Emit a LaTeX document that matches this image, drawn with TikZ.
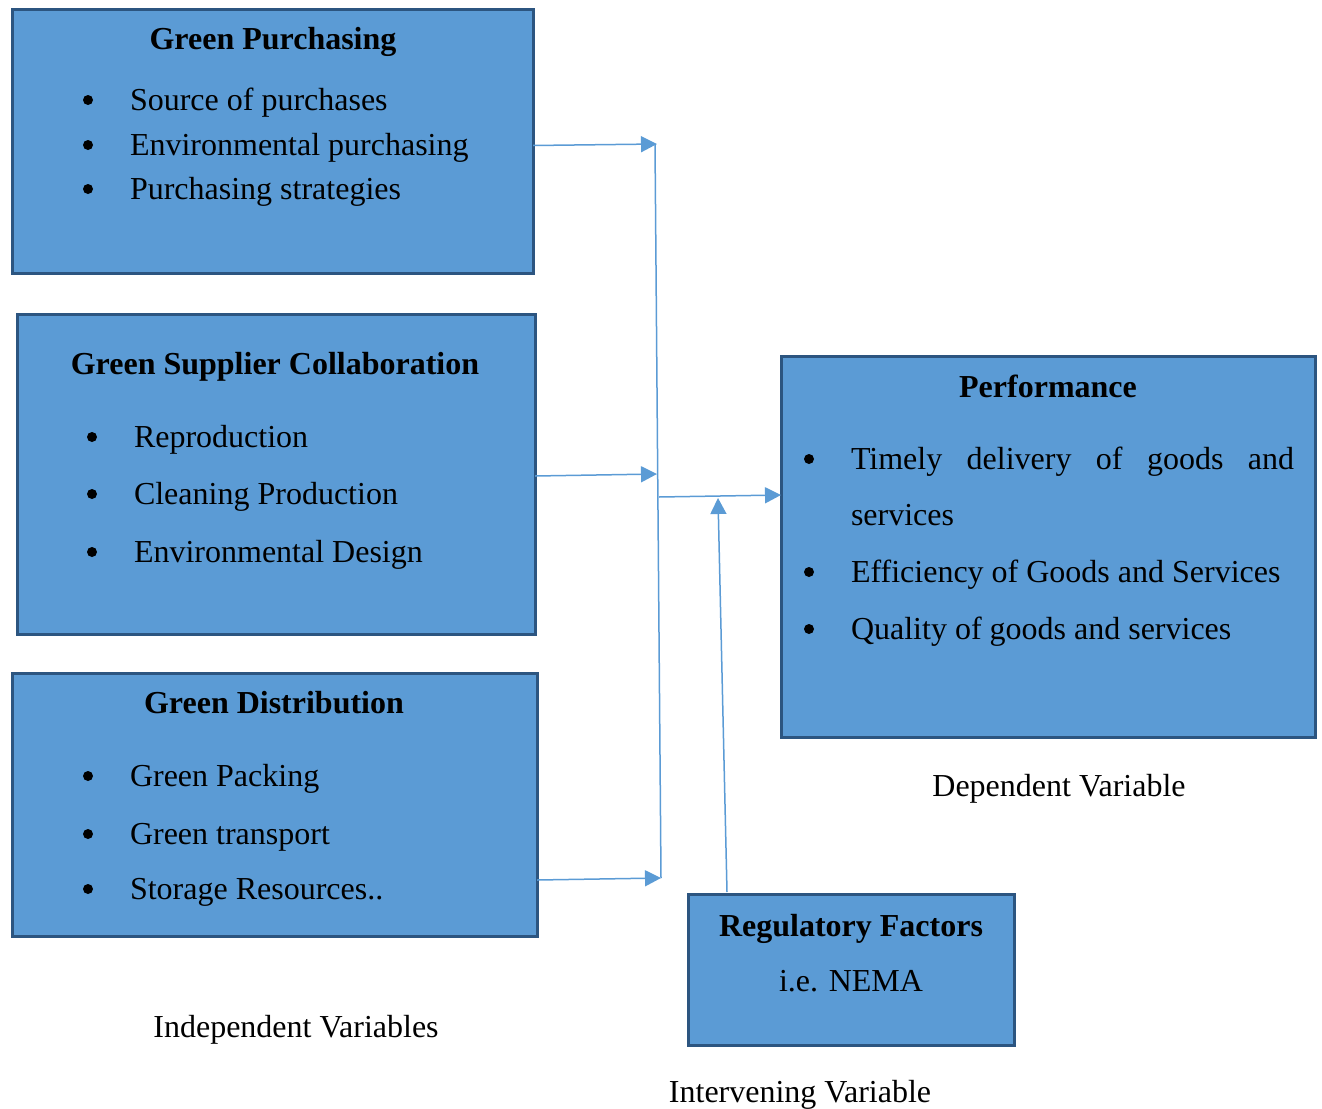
\documentclass[tikz,border=0pt]{standalone}
\usepackage{fontspec}
\setmainfont{Liberation Serif}
\usetikzlibrary{arrows.meta}
\definecolor{boxfill}{HTML}{5B9BD5}
\definecolor{boxline}{HTML}{2C5580}
\definecolor{connc}{HTML}{5B9BD5}
\begin{document}
\begin{tikzpicture}[x=1pt,y=-1pt,
  every node/.style={font=\fontsize{32}{38}\selectfont, inner sep=0pt, outer sep=0pt},
  panel/.style={draw=boxline, line width=3pt, fill=boxfill, anchor=north west},
  ttl/.style={font=\fontsize{32}{38}\selectfont\bfseries, anchor=base},
  item/.style={anchor=base west},
  dot/.style={circle, fill=black, minimum size=10pt, yshift=10pt},
  conn/.style={draw=connc, line width=1.5pt},
  arr/.style={conn, -{Triangle[length=16pt,width=16pt]}}]
\useasboundingbox (0,0) rectangle (1322,1108);

% boxes
\node[panel, minimum width=521pt, minimum height=263pt] (gp) at (12,10) {};
\node[panel, minimum width=518pt, minimum height=320pt] (gsc) at (17,314) {};
\node[panel, minimum width=525pt, minimum height=263pt] (gd) at (12,673) {};
\node[panel, minimum width=534pt, minimum height=381pt] (perf) at (781,356) {};
\node[panel, minimum width=326pt, minimum height=151pt] (reg) at (688,894) {};

% Green Purchasing
\node[ttl] (gpt) at (273,50) {Green Purchasing};
\node[dot] (gpd1) at (88,110) {};
\node[dot] (gpd2) at (88,155) {};
\node[dot] (gpd3) at (88,199) {};
\node[item] (gpi1) at (130,110) {Source of purchases};
\node[item] (gpi2) at (130,155) {Environmental purchasing};
\node[item] (gpi3) at (130,199) {Purchasing strategies};

% Green Supplier Collaboration
\node[ttl] (gsct) at (275,374) {Green Supplier Collaboration};
\node[dot] (gscd1) at (92,447) {};
\node[dot] (gscd2) at (92,504) {};
\node[dot] (gscd3) at (92,562) {};
\node[item] (gsci1) at (134,447) {Reproduction};
\node[item] (gsci2) at (134,504) {Cleaning Production};
\node[item] (gsci3) at (134,562) {Environmental Design};

% Green Distribution
\node[ttl] (gdt) at (274,713) {Green Distribution};
\node[dot] (gdd1) at (88,786) {};
\node[dot] (gdd2) at (88,844) {};
\node[dot] (gdd3) at (88,899) {};
\node[item] (gdi1) at (130,786) {Green Packing};
\node[item] (gdi2) at (130,844) {Green transport};
\node[item] (gdi3) at (130,899) {Storage Resources..};

% Performance
\node[ttl] (pt) at (1048,397) {Performance};
\node[dot] (pd1) at (809,469) {};
\node[dot] (pd2) at (809,582) {};
\node[dot] (pd3) at (809,639) {};
\node[item] (pi1) at (851,469) {\makebox[443pt][s]{Timely delivery of goods and}};
\node[item] (pi1b) at (851,525) {services};
\node[item] (pi2) at (851,582) {Efficiency of Goods and Services};
\node[item] (pi3) at (851,639) {Quality of goods and services};

% Regulatory
\node[ttl] (rt) at (851,936) {Regulatory Factors};
\node[anchor=base] (rs) at (851,991) {i.e. NEMA};

% captions
\node[anchor=base] (dv) at (1059,796) {Dependent Variable};
\node[anchor=base] (iv) at (296,1037) {Independent Variables};
\node[anchor=base] (inv) at (800,1102) {Intervening Variable};

% connectors
\coordinate (t1) at (657,144);
\coordinate (t2) at (657,474);
\coordinate (t3) at (661,878);
\coordinate (vtop) at (655,144);
\coordinate (vbot) at (661,878);
\coordinate (j) at (659,497);
\coordinate (pin) at (781,495);
\coordinate (rb) at (727,892);
\coordinate (ra) at (718,498);

\draw[arr] ([yshift=-4pt]gp.east) -- (t1);
\draw[arr] ([yshift=-2pt]gsc.east) -- (t2);
\draw[arr] ([yshift=-2pt]gd.east |- t3) -- (t3);
\draw[conn] (vtop) -- (vbot);
\draw[arr] (j) -- (pin);
\draw[arr] (rb) -- (ra);
\end{tikzpicture}
\end{document}
